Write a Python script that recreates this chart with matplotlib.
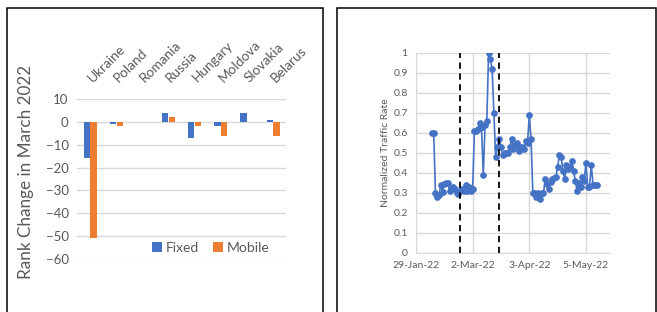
import numpy as np
import pandas as pd
import matplotlib
matplotlib.use("Agg")
import matplotlib.pyplot as plt
import matplotlib.dates as mdates
import matplotlib.transforms as mtransforms
from matplotlib.patches import Rectangle
from matplotlib.ticker import FuncFormatter

plt.rcParams['font.family'] = ['Lato', 'DejaVu Sans']

# left panel data
countries = ["Ukraine", "Poland", "Romania", "Russia", "Hungary", "Moldova", "Slovakia", "Belarus"]
fixed = [-16, -1, 0, 4, -7, -2, 4, 1]
mobile = [-51, -2, 0, 2, -2, -6, 0, -6]

# right panel data (daily, starting 7-Feb-22)
start_day = "2022-02-07"
traffic = [0.60, 0.60, 0.30, 0.28, 0.29, 0.34, 0.305, 0.345, 0.35, 0.35,
           0.31, 0.32, 0.33, 0.32, 0.30, 0.295, 0.31, 0.32, 0.31, 0.34,
           0.31, 0.33, 0.31, 0.32, 0.61, 0.61, 0.62, 0.65, 0.63, 0.39,
           0.64, 0.66, 1.00, 0.97, 0.92, 0.70, 0.48, 0.53, 0.57, 0.53,
           0.49, 0.50, 0.50, 0.50, 0.53, 0.57, 0.52, 0.54, 0.55, 0.51,
           0.53, 0.53, 0.52, 0.56, 0.55, 0.69, 0.57, 0.30, 0.30, 0.28,
           0.30, 0.27, 0.30, 0.30, 0.37, 0.345, 0.32, 0.355, 0.37, 0.375,
           0.38, 0.43, 0.49, 0.48, 0.41, 0.37, 0.44, 0.42, 0.43, 0.46,
           0.41, 0.36, 0.31, 0.35, 0.33, 0.38, 0.36, 0.45, 0.33, 0.33,
           0.44, 0.34, 0.34, 0.34]
event_days = ["2022-02-23", "2022-03-17"]
date_ticks = ["2022-01-29", "2022-03-02", "2022-04-03", "2022-05-05"]

blue = "#4472C4"
orange = "#ED7D31"
grid_c = "#D9D9D9"
txt_c = "#595959"

fig = plt.figure(figsize=(6.57, 3.12), dpi=100)

# panel frames
fig.add_artist(Rectangle((7/657, -0.05), (323-7)/657, 0.05 + 1 - 8/312, transform=fig.transFigure,
                         fill=False, edgecolor="black", linewidth=1.1))
fig.add_artist(Rectangle((337/657, -0.05), (656-337)/657, 0.05 + 1 - 8/312, transform=fig.transFigure,
                         fill=False, edgecolor="black", linewidth=1.1))

# ---- left: rank change bars
ax1 = fig.add_axes([77/657, 1 - 259/312, 209/657, 160/312])
x = np.arange(len(countries))
w = 0.24
ax1.bar(x - 0.125, fixed, w, color=blue, label="Fixed", zorder=3)
ax1.bar(x + 0.135, mobile, w, color=orange, label="Mobile", zorder=3)
ax1.set_xlim(-0.5, len(countries) - 0.5)
ax1.set_ylim(-60, 10)
ax1.set_yticks(np.arange(-60, 11, 10))
ax1.yaxis.grid(True, color=grid_c, linewidth=1)
ax1.set_axisbelow(True)
for s in ax1.spines.values():
    s.set_visible(False)
ax1.xaxis.tick_top()
ax1.set_xticks(x)
ax1.set_xticklabels(countries, rotation=45, ha="left", va="bottom", rotation_mode="anchor")
ax1.tick_params(axis="x", length=0, pad=10.5, labelsize=9.8, labelcolor=txt_c)
ax1.tick_params(axis="y", length=0, pad=6, labelsize=9.5, labelcolor=txt_c)
shift = mtransforms.ScaledTranslation(4/100, 0, fig.dpi_scale_trans)
for lab in ax1.get_xticklabels():
    lab.set_transform(lab.get_transform() + shift)
ax1.set_ylabel("Rank Change in March 2022", fontsize=12.3, color=txt_c)
ax1.yaxis.set_label_coords(-0.205, 0.547)
ax1.legend(loc="center", bbox_to_anchor=(0.64, 0.07), ncol=2, frameon=False,
           fontsize=10, labelcolor=txt_c, handlelength=0.7, handleheight=0.7,
           handletextpad=0.3, columnspacing=1.0)

# ---- right: normalized traffic
ax2 = fig.add_axes([416/657, 1 - 253/312, 194/657, 200/312])
dates = pd.date_range(start_day, periods=len(traffic), freq="D")
ax2.plot(dates, traffic, color=blue, linewidth=1.2, marker="o", markersize=3.8, zorder=3)
for d in event_days:
    ax2.axvline(pd.Timestamp(d), color="black", linestyle=(0, (3.5, 2.5)), linewidth=1.3, zorder=4)
ax2.set_xlim(pd.Timestamp("2022-01-29"), pd.Timestamp("2022-05-18 14:00"))
ax2.set_ylim(0, 1)
ax2.set_yticks(np.arange(0, 1.01, 0.1))
ax2.yaxis.set_major_formatter(FuncFormatter(lambda v, p: f"{v:g}"))
ax2.set_xticks([pd.Timestamp(d) for d in date_ticks])
ax2.xaxis.set_major_formatter(FuncFormatter(
    lambda v, p: f"{mdates.num2date(v).day}-{mdates.num2date(v):%b-%y}"))
ax2.grid(True, color=grid_c, linewidth=1)
ax2.set_axisbelow(True)
for s in ax2.spines.values():
    s.set_visible(False)
ax2.spines["left"].set_visible(True)
ax2.spines["bottom"].set_visible(True)
ax2.spines["left"].set_color(grid_c)
ax2.spines["bottom"].set_color(grid_c)
ax2.tick_params(length=0, labelsize=7.5, labelcolor=txt_c)
ax2.tick_params(axis="y", pad=6)
ax2.tick_params(axis="x", pad=6)
ax2.set_ylabel("Normalized Traffic Rate", fontsize=7.5, color=txt_c)
ax2.yaxis.set_label_coords(-0.135, 0.5)

fig.savefig("out.png", dpi=100)
